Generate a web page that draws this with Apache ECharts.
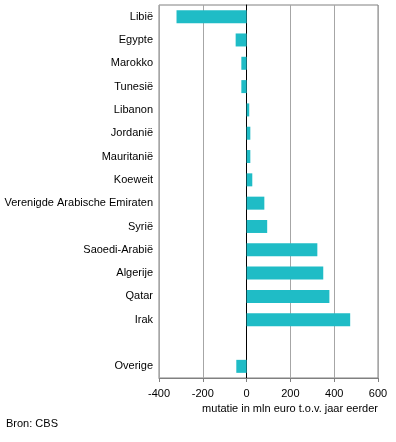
<!DOCTYPE html>
<html><head><meta charset="utf-8">
<script src="https://cdn.jsdelivr.net/npm/echarts@6/dist/echarts.min.js"></script>
<style>html,body{margin:0;padding:0;background:#fff;}#c{width:396px;height:442px;}</style>
</head><body><div id="c"></div>
<script>
const categories = ['Libië','Egypte','Marokko','Tunesië','Libanon','Jordanië','Mauritanië','Koeweit','Verenigde Arabische Emiraten','Syrië','Saoedi-Arabië','Algerije','Qatar','Irak','','Overige'];
const values = [-320,-50,-24,-24,12,17,17,26,81,94,323,350,378,473,null,-47];
const xTicks = [-400,600,200];
const axisTitle = 'mutatie in mln euro t.o.v. jaar eerder';
const source = 'Bron: CBS';

const font = 'Arial, "Liberation Sans", sans-serif';
const chart = echarts.init(document.getElementById('c'));
chart.setOption({
  animation:false,
  backgroundColor:'#fff',
  textStyle:{fontFamily:font},
  title:[
    {text:axisTitle,right:18,top:403,textStyle:{fontSize:11,fontWeight:'normal',color:'#000',fontFamily:font},padding:0},
    {text:source,left:6,top:418,textStyle:{fontSize:11,fontWeight:'normal',color:'#000',fontFamily:font},padding:0}
  ],
  grid:{left:159,right:18,top:5,bottom:64,show:true,borderColor:'#808080',borderWidth:1,containLabel:false},
  xAxis:{type:'value',min:xTicks[0],max:xTicks[1],interval:xTicks[2],
    axisLine:{show:true,onZero:false,lineStyle:{color:'#808080'}},
    axisTick:{show:true,length:4,lineStyle:{color:'#808080'}},
    axisLabel:{color:'#000',fontSize:11,margin:10,fontFamily:font},
    splitLine:{show:true,lineStyle:{color:'#a6a6a6',width:1}}},
  yAxis:{type:'category',data:categories,inverse:true,
    axisLine:{show:true,onZero:true,lineStyle:{color:'#000',width:1}},
    axisTick:{show:false},
    axisLabel:{color:'#000',fontSize:11,margin:6,fontFamily:font},
    splitLine:{show:false}},
  series:[{type:'bar',data:values,barWidth:13,itemStyle:{color:'#1fbcc6'},z:1}]
});
</script></body></html>
